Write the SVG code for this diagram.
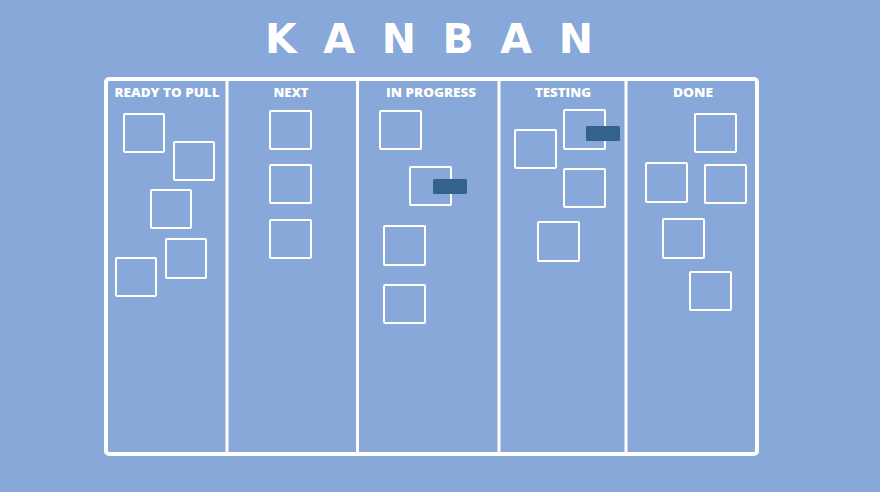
<svg xmlns="http://www.w3.org/2000/svg" width="880" height="492" viewBox="0 0 880 492">
<style>
.card{fill:none;stroke:#ffffff;stroke-width:2;}
.tag{fill:#33628f;}
.head{font-family:"Open Sans","Liberation Sans",sans-serif;font-weight:800;font-size:12.5px;fill:#ffffff;text-anchor:middle;}
.div{stroke:#ffffff;stroke-width:3;}
</style>
<rect width="880" height="492" fill="#87a8d9"/>
<text id="title" x="265" y="53" font-family="'DejaVu Sans','Liberation Sans',sans-serif" font-weight="700" font-size="41" fill="#ffffff" textLength="328" lengthAdjust="spacing">KANBAN</text>
<g id="board">
<rect x="106" y="79" width="651" height="375" rx="3" fill="none" stroke="#ffffff" stroke-width="4"/>
<line class="div" x1="227" y1="79" x2="227" y2="454"/>
<line class="div" x1="357.5" y1="79" x2="357.5" y2="454"/>
<line class="div" x1="499" y1="79" x2="499" y2="454"/>
<line class="div" x1="626" y1="79" x2="626" y2="454"/>
</g>
<g id="col-ready">
<text class="head" x="167" y="97" textLength="105" lengthAdjust="spacingAndGlyphs">READY TO PULL</text>
<rect class="card" x="124" y="114" width="40" height="38" rx="1"/>
<rect class="card" x="174" y="142" width="40" height="38" rx="1"/>
<rect class="card" x="151" y="190" width="40" height="38" rx="1"/>
<rect class="card" x="166" y="239" width="40" height="39" rx="1"/>
<rect class="card" x="116" y="258" width="40" height="38" rx="1"/>
</g>
<g id="col-next">
<text class="head" x="291" y="97" textLength="35" lengthAdjust="spacingAndGlyphs">NEXT</text>
<rect class="card" x="270" y="111" width="41" height="38" rx="1"/>
<rect class="card" x="270" y="165" width="41" height="38" rx="1"/>
<rect class="card" x="270" y="220" width="41" height="38" rx="1"/>
</g>
<g id="col-progress">
<text class="head" x="431" y="97" textLength="90" lengthAdjust="spacingAndGlyphs">IN PROGRESS</text>
<rect class="card" x="380" y="111" width="41" height="38" rx="1"/>
<rect class="card" x="410" y="167" width="41" height="38" rx="1"/>
<rect class="tag" x="433" y="179" width="34" height="15" rx="1.5"/>
<rect class="card" x="384" y="226" width="41" height="39" rx="1"/>
<rect class="card" x="384" y="285" width="41" height="38" rx="1"/>
</g>
<g id="col-testing">
<text class="head" x="563" y="97" textLength="56" lengthAdjust="spacingAndGlyphs">TESTING</text>
<rect class="card" x="564" y="110" width="41" height="39" rx="1"/>
<rect class="tag" x="586" y="126" width="34" height="15" rx="1.5"/>
<rect class="card" x="515" y="130" width="41" height="38" rx="1"/>
<rect class="card" x="564" y="169" width="41" height="38" rx="1"/>
<rect class="card" x="538" y="222" width="41" height="39" rx="1"/>
</g>
<g id="col-done">
<text class="head" x="693" y="97" textLength="40" lengthAdjust="spacingAndGlyphs">DONE</text>
<rect class="card" x="695" y="114" width="41" height="38" rx="1"/>
<rect class="card" x="646" y="163" width="41" height="39" rx="1"/>
<rect class="card" x="705" y="165" width="41" height="38" rx="1"/>
<rect class="card" x="663" y="219" width="41" height="39" rx="1"/>
<rect class="card" x="690" y="272" width="41" height="38" rx="1"/>
</g>
</svg>
